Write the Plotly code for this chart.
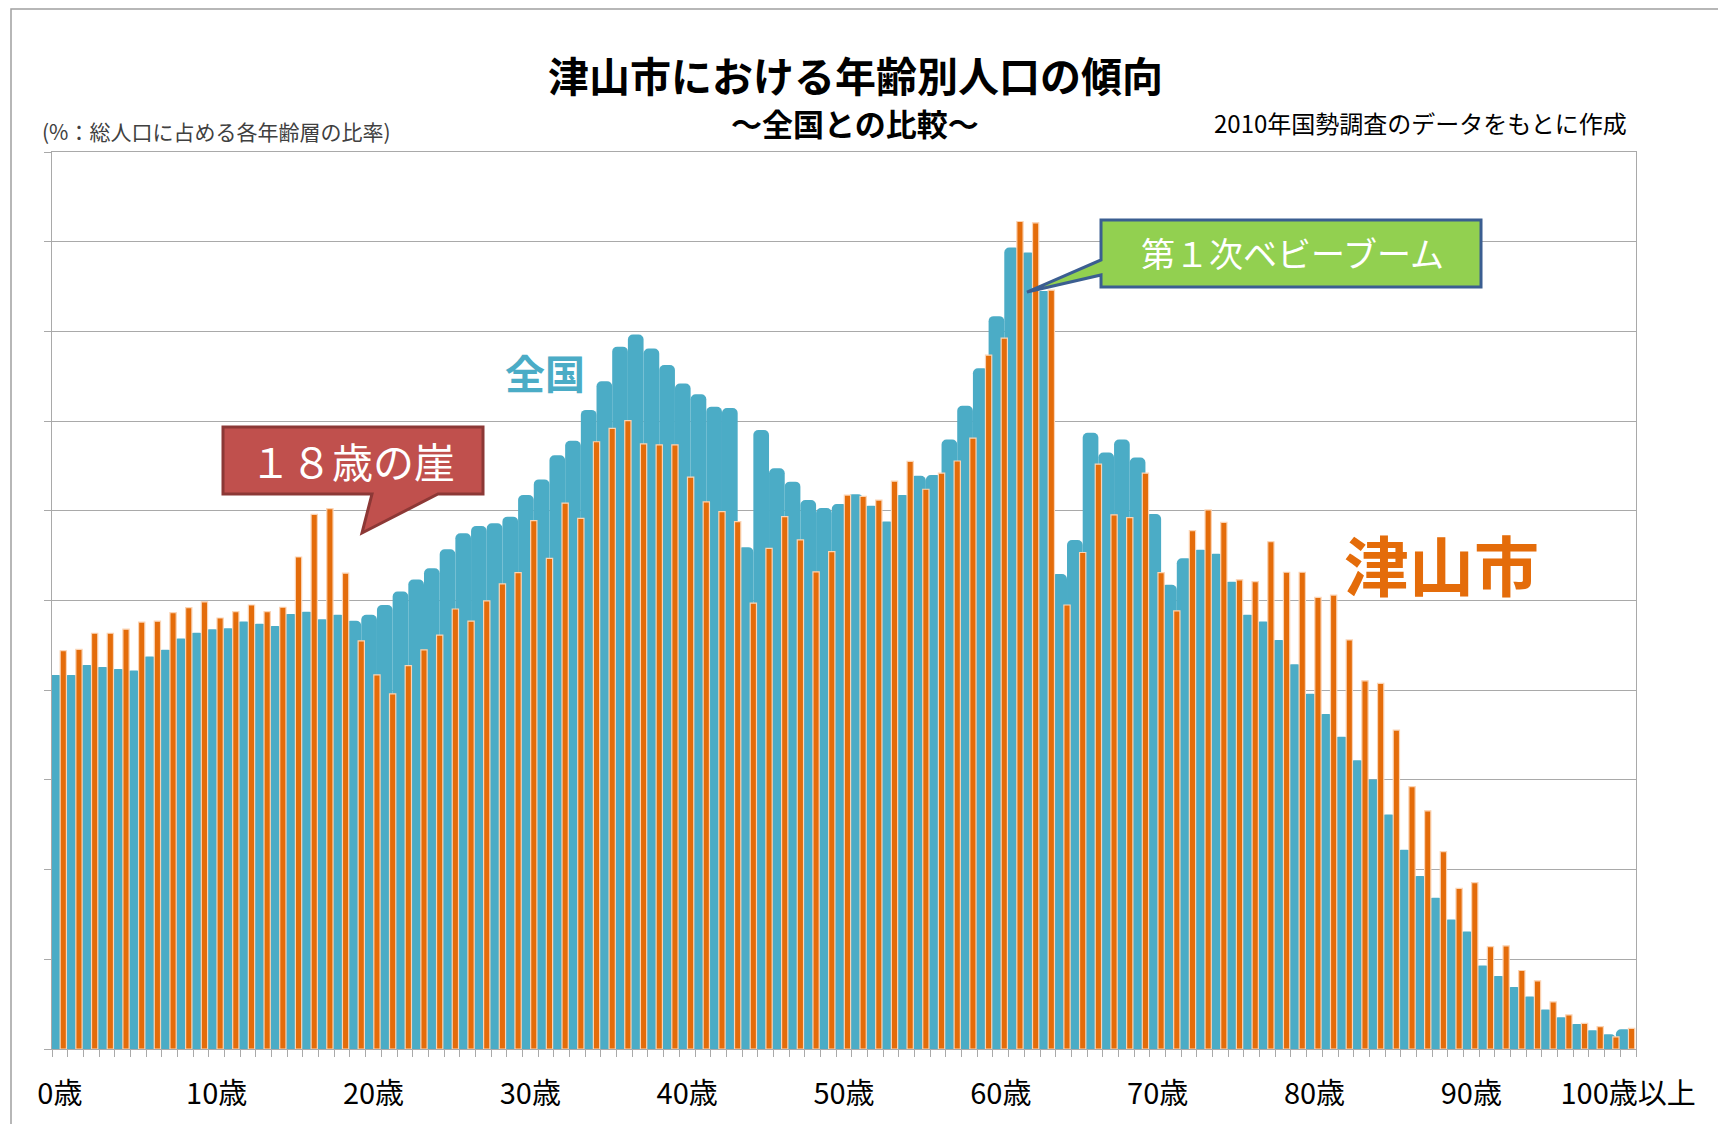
import plotly.graph_objects as go

# ---------------- data ----------------
ages = list(range(101))

# 全国 (%: share of total population for each age)
national = [
    0.834, 0.834, 0.856, 0.852, 0.847, 0.844, 0.875, 0.890, 0.915, 0.928,
    0.936, 0.938, 0.953, 0.948, 0.943, 0.970, 0.975, 0.958, 0.968, 0.955,
    0.968, 0.990, 1.020, 1.047, 1.072, 1.114, 1.150, 1.166, 1.172, 1.187,
    1.235, 1.270, 1.324, 1.356, 1.425, 1.489, 1.566, 1.593, 1.562, 1.525,
    1.484, 1.460, 1.432, 1.429, 1.119, 1.380, 1.295, 1.265, 1.224, 1.206,
    1.215, 1.237, 1.211, 1.176, 1.235, 1.278, 1.280, 1.359, 1.434, 1.518,
    1.634, 1.787, 1.776, 1.690, 1.059, 1.135, 1.374, 1.330, 1.359, 1.319,
    1.193, 1.035, 1.094, 1.113, 1.104, 1.042, 0.968, 0.953, 0.912, 0.858,
    0.792, 0.747, 0.696, 0.644, 0.601, 0.523, 0.444, 0.386, 0.337, 0.289,
    0.262, 0.186, 0.163, 0.138, 0.117, 0.088, 0.071, 0.056, 0.042, 0.033,
    0.044,
]

# 津山市
tsuyama = [
    0.888, 0.891, 0.927, 0.927, 0.936, 0.952, 0.954, 0.973, 0.984, 0.997,
    0.961, 0.975, 0.990, 0.975, 0.985, 1.097, 1.192, 1.205, 1.061, 0.910,
    0.834, 0.792, 0.855, 0.890, 0.923, 0.981, 0.954, 0.999, 1.037, 1.062,
    1.178, 1.094, 1.217, 1.183, 1.354, 1.384, 1.401, 1.349, 1.347, 1.347,
    1.275, 1.220, 1.198, 1.176, 0.994, 1.116, 1.187, 1.135, 1.064, 1.109,
    1.235, 1.232, 1.224, 1.266, 1.310, 1.248, 1.284, 1.311, 1.362, 1.547,
    1.585, 1.845, 1.842, 1.692, 0.990, 1.107, 1.304, 1.191, 1.185, 1.284,
    1.062, 0.977, 1.156, 1.202, 1.174, 1.046, 1.042, 1.131, 1.063, 1.063,
    1.007, 1.012, 0.912, 0.821, 0.815, 0.711, 0.585, 0.531, 0.440, 0.358,
    0.371, 0.228, 0.230, 0.175, 0.152, 0.105, 0.076, 0.057, 0.050, 0.027,
    0.046,
]

tick_ages = [0, 10, 20, 30, 40, 50, 60, 70, 80, 90, 100]
tick_texts = ["0歳", "10歳", "20歳", "30歳", "40歳", "50歳", "60歳",
              "70歳", "80歳", "90歳", "100歳以上"]

# ---------------- styling ----------------
FONT = "Noto Sans CJK JP"
BLUE = "#4BACC6"
ORANGE = "#E46C0A"
GRID = "#A9A9A9"

W, H = 1718, 1124
L, R, T, B = 52, 1636, 152, 1049


def px(x):
    return (x - L) / (R - L)


def py(y):
    return (B - y) / (B - T)


fig = go.Figure()

fig.add_trace(go.Bar(
    x=ages, y=national, name="全国",
    width=1.0, offset=-0.28,
    marker=dict(color=BLUE, cornerradius=5, line=dict(width=0)),
    hoverinfo="x+y",
))
fig.add_trace(go.Bar(
    x=ages, y=tsuyama, name="津山市",
    width=0.40, offset=0.52,
    marker=dict(color=ORANGE, line=dict(color="#FBD4B4", width=1.2)),
    hoverinfo="x+y",
))

fig.update_layout(
    width=W, height=H,
    autosize=False,
    barmode="overlay",
    showlegend=False,
    paper_bgcolor="white",
    plot_bgcolor="white",
    margin=dict(l=L, r=W - R, t=T, b=H - B, pad=0),
    font=dict(family=FONT, color="#000000"),
)

fig.update_xaxes(
    range=[0, 101],
    tickmode="array",
    tickvals=[a + 0.5 for a in tick_ages],
    ticktext=tick_texts,
    ticks="",
    ticklabelstandoff=19,
    tickfont=dict(size=29, family=FONT, color="#000000"),
    minor=dict(tickvals=list(range(102)), ticks="outside", ticklen=7,
               tickcolor=GRID, tickwidth=1, showgrid=False),
    showgrid=False,
    showline=True, linecolor=GRID, linewidth=1.3, mirror=True,
    zeroline=False,
    fixedrange=True,
)
fig.update_yaxes(
    range=[0, 2.0],
    dtick=0.2,
    showticklabels=False,
    ticks="outside", ticklen=7, tickcolor=GRID,
    showgrid=True, gridcolor=GRID, gridwidth=1.3,
    showline=True, linecolor=GRID, linewidth=1.3, mirror=True,
    zeroline=False,
    fixedrange=True,
)

shapes = []
# outer chart frame
shapes.append(dict(type="rect", xref="paper", yref="paper",
                   x0=px(11), x1=px(1760), y0=py(1160), y1=py(9),
                   line=dict(color="#A0A0A0", width=1.5), fillcolor="rgba(0,0,0,0)",
                   layer="below"))


def path_from(points):
    s = "M " + " L ".join(f"{px(x):.5f},{py(y):.5f}" for x, y in points) + " Z"
    return s


# 18歳の崖 callout
shapes.append(dict(type="path", xref="paper", yref="paper",
                   path=path_from([(223, 427), (483, 427), (483, 494), (438, 494),
                                   (362, 533), (372, 494), (223, 494)]),
                   fillcolor="#C0504D", line=dict(color="#8C3836", width=3)))
# 第1次ベビーブーム callout
shapes.append(dict(type="path", xref="paper", yref="paper",
                   path=path_from([(1101, 220), (1481, 220), (1481, 287), (1101, 287),
                                   (1101, 275), (1027, 292), (1101, 260)]),
                   fillcolor="#92D050", line=dict(color="#3B5E91", width=3)))

annotations = [
    dict(text="<b>津山市における年齢別人口の傾向</b>", x=px(855), y=py(74),
         font=dict(size=41, family=FONT, color="#000000")),
    dict(text="<b>～全国との比較～</b>", x=px(855), y=py(122),
         font=dict(size=31, family=FONT, color="#000000")),
    dict(text="(%：総人口に占める各年齢層の比率)", x=px(40), y=py(131), xanchor="left",
         font=dict(size=21, family=FONT, color="#404040")),
    dict(text="2010年国勢調査のデータをもとに作成", x=px(1629), y=py(122), xanchor="right",
         font=dict(size=24, family=FONT, color="#000000")),
    dict(text="<b>全国</b>", x=px(545), y=py(372),
         font=dict(size=40, family=FONT, color=BLUE)),
    dict(text="<b>津山市</b>", x=px(1441), y=py(563),
         font=dict(size=65, family=FONT, color=ORANGE)),
    dict(text="１８歳の崖", x=px(352), y=py(460),
         font=dict(size=41, family=FONT, color="#FFFFFF")),
    dict(text="第１次ベビーブーム", x=px(1292), y=py(253),
         font=dict(size=34, family=FONT, color="#FFFFFF")),
]
for a in annotations:
    a.update(xref="paper", yref="paper", showarrow=False,
             xanchor=a.get("xanchor", "center"), yanchor="middle")

fig.update_layout(shapes=shapes, annotations=annotations)

fig.write_html(
    "out.html",
    config={"displayModeBar": False},
    post_script="document.body.style.margin='0';document.body.style.overflow='hidden';",
)
